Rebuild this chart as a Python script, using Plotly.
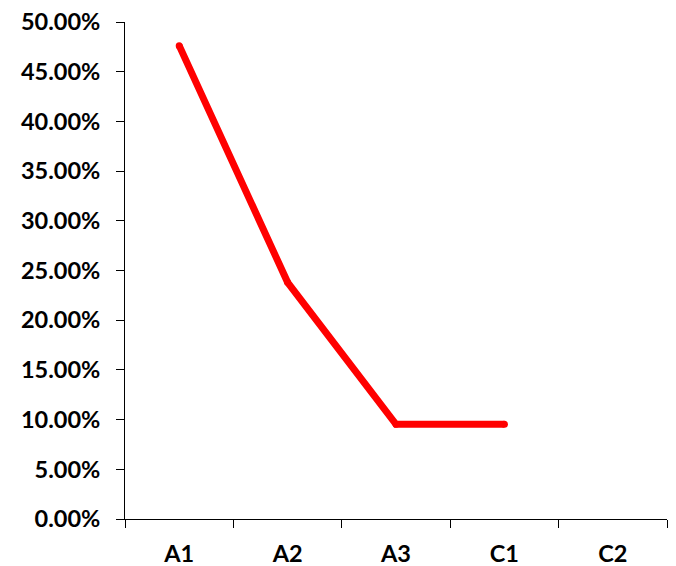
import plotly.graph_objects as go

categories = ["A1", "A2", "A3", "C1", "C2"]
shares = [0.4762, 0.2381, 0.0952, 0.0952, None]
y_ticks = [0.0, 0.05, 0.10, 0.15, 0.20, 0.25, 0.30, 0.35, 0.40, 0.45, 0.50]

fig = go.Figure(
    go.Scatter(
        x=categories,
        y=shares,
        mode="lines+markers",
        line=dict(color="#FF0000", width=7),
        marker=dict(color="#FF0000", size=7, line=dict(width=0)),
        connectgaps=False,
        showlegend=False,
    )
)

label_font = dict(family="Lato, Open Sans, sans-serif", size=23.5, color="#000000", weight="bold")

fig.update_layout(
    width=676,
    height=566,
    margin=dict(l=125, r=9, t=22, b=47),
    paper_bgcolor="white",
    plot_bgcolor="white",
)

fig.update_xaxes(
    type="category",
    categoryorder="array",
    categoryarray=categories,
    range=[-0.5, 4.5],
    showline=True,
    linecolor="#000000",
    linewidth=1,
    ticks="outside",
    tickson="boundaries",
    ticklen=8,
    tickcolor="#000000",
    showgrid=False,
    zeroline=False,
    tickfont=label_font,
    ticklabelstandoff=14,
    automargin=False,
)

fig.update_yaxes(
    range=[0, 0.5],
    tickvals=y_ticks,
    tickformat=".2%",
    showline=True,
    linecolor="#000000",
    linewidth=1,
    ticks="outside",
    ticklen=8,
    tickcolor="#000000",
    showgrid=False,
    zeroline=False,
    tickfont=label_font,
    ticklabelstandoff=11,
    automargin=False,
)

fig.write_html("out.html")
